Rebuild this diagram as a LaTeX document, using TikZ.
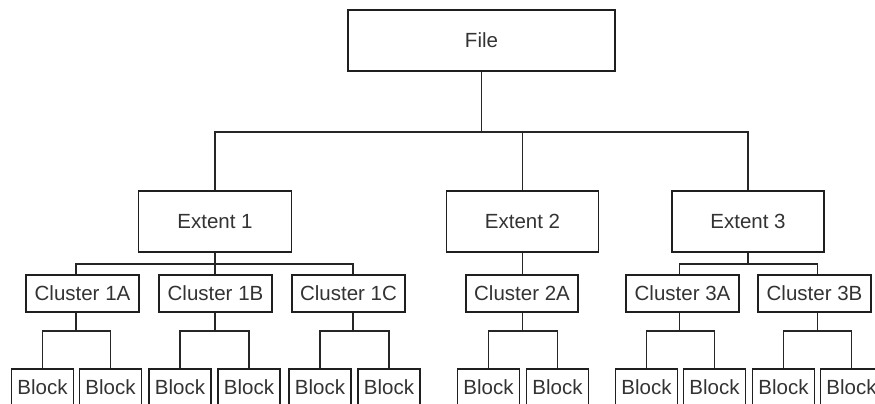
\documentclass[tikz,border=0pt]{standalone}
\usepackage{fontspec}
\setmainfont{Liberation Sans}
\begin{document}
\begin{tikzpicture}[x=1pt,y=-1pt,
  box/.style={draw=black!88, line width=1.2pt, text=black!80, inner sep=0pt,
    font=\fontsize{20.5}{24}\selectfont},
  big/.style={box, minimum width=153pt, minimum height=61pt},
  clus/.style={box, minimum width=113pt, minimum height=37pt},
  blk/.style={box, minimum width=62pt, minimum height=37pt},
  conn/.style={draw=black!85, line width=1.1pt}]
\useasboundingbox (0,0) rectangle (875,404);
\clip (0,0) rectangle (875,404);
\fill[white] (0,0) rectangle (875,404);
% level coordinates
\coordinate (kt) at (0,132);
\coordinate (k1) at (0,264);
% top
\node[box, minimum width=267pt, minimum height=61pt] (file) at (481.5,40.5) {File};
\node[big] (e1) at (215,221.5) {Extent 1};
\node[big, minimum width=152pt] (e2) at (522.5,221.5) {Extent 2};
\node[big, minimum width=152pt] (e3) at (748,221.5) {Extent 3};
% clusters
\node[clus] (c1a) at (82.5,293.5) {Cluster 1A};
\node[clus] (c1b) at (215.5,293.5) {Cluster 1B};
\node[clus] (c1c) at (348.5,293.5) {Cluster 1C};
\node[clus, minimum width=112pt] (c2a) at (522,293.5) {Cluster 2A};
\node[clus] (c3a) at (682.5,293.5) {Cluster 3A};
\node[clus] (c3b) at (814.5,293.5) {Cluster 3B};
% blocks
\node[blk] (b1a1) at (42.5,387.5) {Block};
\node[blk] (b1a2) at (110.5,387.5) {Block};
\node[blk] (b1b1) at (180,387.5) {Block};
\node[blk] (b1b2) at (249,387.5) {Block};
\node[blk] (b1c1) at (320,387.5) {Block};
\node[blk] (b1c2) at (389,387.5) {Block};
\node[blk] (b2a1) at (488.5,387.5) {Block};
\node[blk] (b2a2) at (557.5,387.5) {Block};
\node[blk] (b3a1) at (646.5,387.5) {Block};
\node[blk] (b3a2) at (714.5,387.5) {Block};
\node[blk] (b3b1) at (783.5,387.5) {Block};
\node[blk] (b3b2) at (851.5,387.5) {Block};
% junctions above blocks
\coordinate (j1a) at (76,331);
\coordinate (j1b) at (215,331);
\coordinate (j1c) at (353,331);
\coordinate (j2a) at (522.5,331);
\coordinate (j3a) at (679.5,331);
\coordinate (j3b) at (817.5,331);
% file to extents
\draw[conn] (file.south) -- (kt -| file.south);
\draw[conn] (e1.north) |- (kt -| file.south) -| (e3.north);
\draw[conn] (e2.north) -- (kt -| e2.north);
% extents to clusters
\draw[conn] (e1.south) -- (c1b.north -| j1b);
\draw[conn] (c1a.north -| j1a) |- (k1 -| e1.south) -| (c1c.north -| j1c);
\draw[conn] (e2.south) -- (c2a.north -| e2.south);
\draw[conn] (e3.south) -- (k1 -| e3.south);
\draw[conn] (c3a.north -| j3a) |- (k1 -| e3.south) -| (c3b.north -| j3b);
% clusters to blocks
\foreach \c in {1a,1b,1c,2a,3a,3b}{
  \draw[conn] (c\c.south -| j\c) -- (j\c);
  \draw[conn] (b\c1.north) |- (j\c) -| (b\c2.north);
}
\end{tikzpicture}
\end{document}
